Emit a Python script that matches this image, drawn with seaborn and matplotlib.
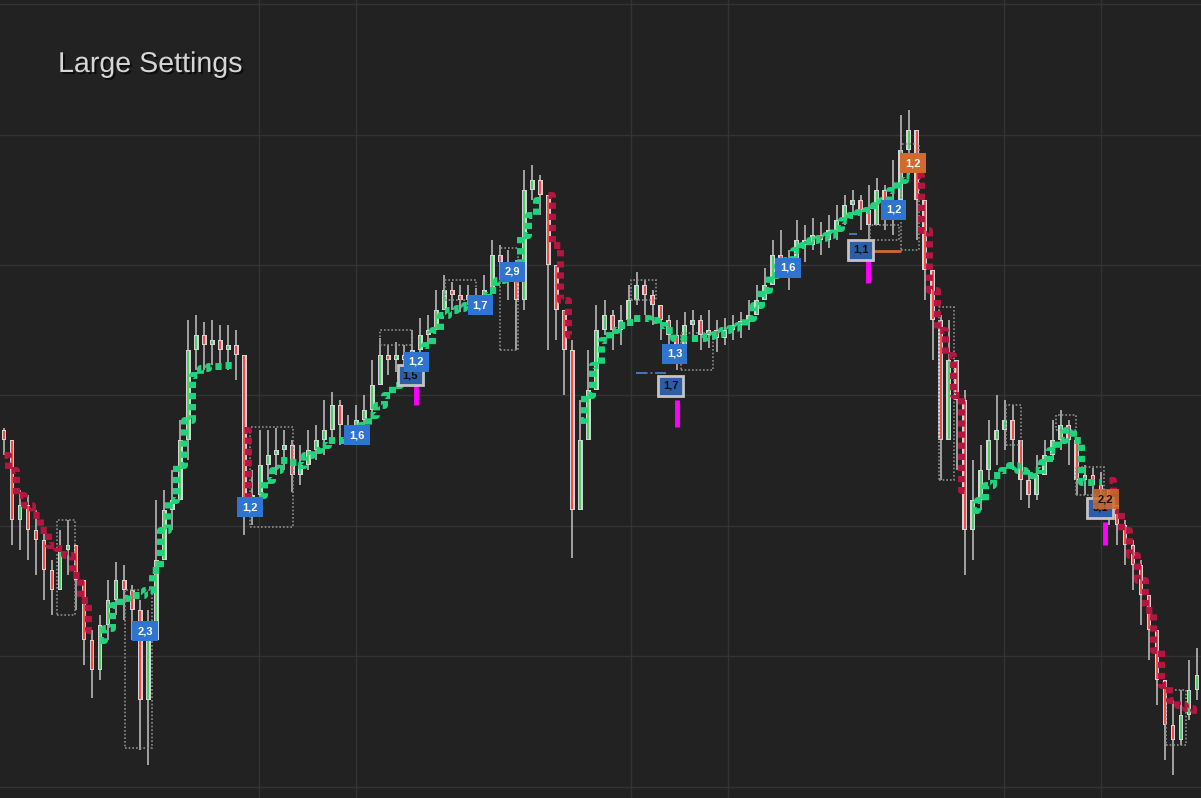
import numpy as np
import matplotlib
matplotlib.use("Agg")
import matplotlib.pyplot as plt
import matplotlib.patheffects as pe
from matplotlib.patches import Rectangle
import pandas as pd
import seaborn as sns

# ---------------- data (price units) ----------------
closes = [36.0, 28.0, 29.5, 27.0, 26.0, 23.0, 21.0, 25.0, 25.5, 22.0,
          16.0, 13.0, 17.5, 20.0, 22.0, 21.0, 19.0, 10.0, 16.0, 24.0,
          29.0, 30.0, 36.0, 45.0, 46.5, 45.5, 46.0, 45.0, 45.5, 44.5,
          29.5, 30.5, 33.5, 34.5, 35.0, 35.5, 32.5, 33.5, 35.0, 36.0,
          37.0, 39.5, 37.5, 37.0, 38.0, 39.0, 41.5, 44.5, 44.0, 44.5,
          44.0, 45.0, 46.5, 47.0, 49.0, 51.0, 50.5, 50.0, 50.5, 50.0,
          51.0, 54.5, 53.8, 52.0, 50.0, 61.0, 62.0, 60.5, 53.5, 49.0,
          45.0, 29.0, 36.0, 41.0, 47.0, 48.5, 47.0, 48.0, 50.0, 51.5,
          50.5, 49.5, 48.0, 46.5, 45.5, 47.5, 48.0, 46.5, 47.0, 46.2,
          47.0, 47.5, 47.8, 48.5, 50.0, 51.5, 54.5, 54.0, 52.5, 56.0,
          55.5, 56.5, 56.0, 57.0, 58.0, 59.5, 60.0, 59.0, 57.5, 61.0,
          59.5, 60.0, 65.0, 67.0, 60.0, 53.0, 48.0, 36.0, 44.0, 40.0,
          27.0, 30.0, 33.0, 36.0, 37.0, 38.0, 36.0, 32.0, 30.5, 32.5,
          34.5, 36.0, 37.5, 36.0, 32.0, 32.5, 31.5, 31.0, 29.5, 27.5,
          25.5, 23.5, 20.5, 17.0, 12.0, 7.5, 6.0, 8.5, 11.0, 12.5]
highs = [37.2, 36.0, 31.0, 30.5, 29.0, 27.0, 24.0, 27.0, 28.0, 25.5,
         22.0, 17.0, 18.5, 22.0, 23.8, 23.5, 21.5, 20.0, 19.0, 30.0,
         31.0, 33.0, 38.0, 48.0, 48.5, 47.8, 48.0, 47.5, 47.5, 47.0,
         44.5, 33.0, 37.0, 37.0, 37.2, 37.0, 36.0, 35.5, 37.0, 37.5,
         40.0, 40.8, 40.0, 38.5, 39.5, 40.5, 44.0, 46.2, 45.5, 45.8,
         45.5, 47.0, 48.2, 48.5, 51.0, 52.5, 51.8, 51.5, 51.5, 51.2,
         52.5, 56.0, 55.5, 55.0, 54.0, 63.0, 63.5, 62.5, 60.0, 52.0,
         48.0, 46.0, 40.0, 45.0, 49.5, 50.0, 49.0, 49.5, 51.5, 52.8,
         52.0, 51.0, 49.5, 48.5, 48.0, 48.8, 49.0, 48.5, 49.0, 48.0,
         48.2, 48.5, 48.8, 50.0, 51.5, 53.2, 56.0, 57.0, 55.0, 58.0,
         57.5, 58.2, 57.8, 58.5, 59.5, 60.5, 61.0, 60.5, 61.5, 62.2,
         61.5, 64.0, 68.5, 69.0, 65.0, 57.0, 53.0, 48.5, 48.0, 43.5,
         41.0, 34.0, 35.5, 38.0, 40.5, 40.0, 39.5, 36.0, 33.0, 34.5,
         36.0, 38.0, 39.0, 38.0, 34.5, 33.5, 33.2, 32.8, 31.0, 29.5,
         28.0, 26.0, 24.0, 20.0, 16.0, 11.0, 10.0, 11.0, 14.0, 15.2]
lows = [34.5, 25.5, 25.0, 24.0, 22.5, 20.0, 18.5, 21.0, 22.5, 19.0,
        13.5, 10.2, 12.0, 16.0, 18.5, 18.0, 16.0, 5.0, 3.5, 18.0,
        24.0, 27.0, 30.0, 34.0, 43.0, 43.0, 43.5, 43.0, 43.0, 42.0,
        26.5, 27.5, 29.0, 32.0, 32.5, 33.0, 30.8, 31.5, 33.0, 34.0,
        34.5, 36.0, 35.5, 35.5, 36.0, 37.0, 38.5, 42.0, 42.5, 42.8,
        42.0, 43.0, 44.5, 45.5, 47.0, 49.0, 49.0, 48.8, 49.5, 48.5,
        49.5, 52.0, 52.0, 50.0, 45.0, 49.0, 60.0, 58.5, 45.0, 46.0,
        40.5, 24.2, 31.0, 37.0, 44.0, 46.5, 45.0, 45.5, 47.5, 49.5,
        48.5, 47.5, 46.0, 44.0, 43.0, 45.5, 46.0, 45.0, 45.2, 44.8,
        45.5, 46.0, 46.2, 47.0, 48.5, 50.0, 52.0, 52.5, 51.0, 54.0,
        53.8, 55.0, 54.5, 55.2, 56.0, 57.5, 58.5, 57.0, 56.0, 58.0,
        57.0, 56.5, 59.5, 62.5, 56.0, 50.0, 44.0, 32.0, 38.0, 33.0,
        22.5, 24.0, 29.0, 32.0, 33.5, 35.0, 33.0, 30.0, 29.2, 30.0,
        32.5, 34.0, 35.0, 33.5, 30.5, 30.5, 30.0, 29.5, 27.5, 25.5,
        23.5, 21.0, 17.5, 14.0, 9.5, 4.0, 2.5, 5.5, 8.0, 10.0]
first_open = 37.0

trend = [34.5, 33.0, 30.5, 29.5, 28.5, 27.0, 25.5, 25.2, 24.5, 22.5,
         20.0, 17.0, 16.0, 17.2, 19.5, 20.2, 20.5, 20.5, 21.0, 23.0,
         27.0, 30.0, 33.5, 38.0, 42.5, 43.2, 43.4, 43.4, 43.5, 43.5,
         37.0, 30.0, 30.5, 32.0, 33.0, 34.0, 33.8, 33.5, 34.5, 35.0,
         35.5, 36.0, 36.0, 36.2, 36.8, 37.5, 38.5, 39.5, 40.5, 41.5,
         42.5, 43.2, 44.0, 45.5, 47.0, 48.5, 49.0, 49.2, 49.5, 50.0,
         50.5, 51.0, 52.0, 52.5, 53.5, 56.5, 58.5, 60.0, 60.5, 55.5,
         50.0, 46.5, 38.0, 40.5, 43.5, 46.0, 47.0, 47.5, 47.8, 48.2,
         48.2, 48.0, 47.5, 47.0, 46.2, 46.2, 46.2, 46.2, 46.4, 46.6,
         47.0, 47.2, 47.5, 48.2, 49.5, 51.0, 52.5, 53.5, 54.0, 55.0,
         55.5, 56.0, 56.2, 56.5, 57.2, 58.0, 58.5, 58.8, 59.0, 59.5,
         60.0, 61.0, 62.0, 62.5, 62.5, 57.0, 51.0, 47.0, 44.5, 40.5,
         31.0, 29.0, 30.0, 31.5, 32.5, 33.0, 33.5, 33.0, 32.5, 33.0,
         33.8, 35.0, 36.0, 37.0, 36.0, 31.8, 31.8, 31.8, 32.0, 29.0,
         27.0, 24.5, 22.0, 19.0, 15.0, 11.5, 10.0, 9.5, 9.2, 9.0]
trend_dir = [-1, 1, -1, 1, -1, 1, -1, 1, -1]
trend_len = [12, 18, 2, 36, 4, 42, 7, 17, 12]

# dotted range boxes
box_x0 = [6.6, 15.1, 30.7, 47.0, 55.1, 62.0, 78.3, 84.6, 108.2, 112.0, 116.8, 125.1, 131.4, 133.9, 145.1]
box_x1 = [8.9, 18.5, 36.1, 51.0, 58.9, 64.2, 81.4, 88.6, 111.8, 114.3, 118.6, 127.0, 133.9, 137.4, 147.6]
box_lo = [18.5, 5.2, 27.3, 45.5, 50.0, 45.0, 50.0, 43.0, 56.0, 55.0, 32.0, 35.5, 37.0, 30.5, 5.5]
box_hi = [28.0, 21.0, 37.3, 47.0, 52.0, 55.2, 52.0, 46.7, 57.5, 65.6, 49.3, 39.5, 38.5, 33.3, 11.0]

# signal labels
lab_x = [17.6, 30.75, 44.1, 50.75, 51.5, 59.5, 63.5, 83.25, 83.75, 97.9, 107.0, 111.1, 113.5, 136.9, 137.6]
lab_y = [16.9, 29.3, 36.5, 42.5, 43.8, 49.5, 52.8, 41.4, 44.6, 53.2, 55.0, 59.0, 63.7, 29.2, 30.1]
lab_text = ["2,3", "1,2", "1,6", "1,5", "1,2", "1,7", "2,9", "1,7", "1,3", "1,6", "1,1", "1,2", "1,2", "3,1", "2,2"]
lab_kind = ["blue", "blue", "blue", "box", "blue", "blue", "blue", "box", "blue", "blue", "box", "blue", "orange", "box", "orange_t"]

mag_x = [51.5, 84.0, 107.9, 137.5]
mag_top = [41.5, 40.0, 54.0, 27.8]
mag_bot = [39.5, 37.3, 51.7, 25.5]

# ---------------- style ----------------
BG = "#222222"
GRID = "#333333"
sns.set_theme(style="dark", rc={"axes.facecolor": BG, "figure.facecolor": BG})
plt.rcParams["font.family"] = ["Liberation Sans", "DejaVu Sans"]

fig = plt.figure(figsize=(12.01, 7.98), dpi=100, facecolor=BG)
ax = fig.add_axes([0, 0, 1, 1])
ax.set_facecolor(BG)

n = len(closes)
idx = np.arange(n)
c = np.array(closes)
o = np.r_[first_open, c[:-1]]
hi = np.maximum(np.array(highs), np.maximum(o, c))
lo = np.minimum(np.array(lows), np.minimum(o, c))

# candles
ax.vlines(idx, lo, hi, color="#c4c4c4", lw=1.1, zorder=2)
blo = np.minimum(o, c)
bh = np.maximum(np.abs(c - o), 0.4)
ax.bar(idx, bh, bottom=blo, width=0.6, color="#d4d4d4", linewidth=0, zorder=2.1)
up = c >= o
ax.vlines(idx[up], blo[up] + 0.1, blo[up] + bh[up] - 0.1, color="#22d048", lw=1.1, zorder=2.2)
ax.vlines(idx[~up], blo[~up] + 0.1, blo[~up] + bh[~up] - 0.1, color="#ff2020", lw=1.1, zorder=2.2)

# trend (stepped, dashed)
start = 0
for d, L in zip(trend_dir, trend_len):
    seg = pd.DataFrame({"x": idx[start:start + L], "y": trend[start:start + L]})
    col = "#1fd47c" if d > 0 else "#b3173f"
    sns.lineplot(data=seg, x="x", y="y", ax=ax, color=col, lw=5, estimator=None, sort=False,
                 drawstyle="steps-mid", linestyle=(0, (0.9, 0.7)), dash_capstyle="butt",
                 zorder=3, legend=False)
    start += L

# dotted boxes
for x0, x1, b0, b1 in zip(box_x0, box_x1, box_lo, box_hi):
    ax.add_patch(Rectangle((x0, b0), x1 - x0, b1 - b0, fill=False, ec="#8c8c8c",
                           lw=1.2, ls=(0, (1, 1.2)), zorder=2.5))

# blue dash-dot lines and orange line
ax.hlines(42.7, 78.9, 82.7, color="#4a7cc8", lw=1.3, ls="-.", zorder=4)
ax.hlines(56.6, 105.5, 106.5, color="#4a7cc8", lw=1.3, ls="-.", zorder=4)
ax.hlines(54.9, 108.0, 112.0, color="#d2692c", lw=2, zorder=4)

# magenta bars
ax.vlines(mag_x, mag_bot, mag_top, color="#ff00ff", lw=3.5, zorder=5)

# labels
for x, y, t, k in zip(lab_x, lab_y, lab_text, lab_kind):
    if k == "blue":
        fc, ec, tc, al, lw = "#2f74d0", "none", "white", 1.0, 0
    elif k == "box":
        fc, ec, tc, al, lw = "#2b5ea6", "#c4c4c4", "#0d0d0d", 1.0, 2
    elif k == "orange":
        fc, ec, tc, al, lw = "#d06a2e", "none", "white", 1.0, 0
    else:
        fc, ec, tc, al, lw = "#d06a2e", "none", "#141414", 0.85, 0
    ax.text(x, y, t, ha="center", va="center", fontsize=8, fontweight="bold", color=tc,
            bbox=dict(boxstyle="square,pad=0.45", fc=fc, ec=ec, lw=lw, alpha=al), zorder=6)

# grid
grid_x = [31.85, 43.96, 78.3, 90.4, 124.9, 137.0]
grid_y = [1.3, 14.4, 27.4, 40.5, 53.5, 66.5, 79.6]
ax.set_xticks(grid_x)
ax.set_yticks(grid_y)
ax.grid(True, color=GRID, lw=1.0)
ax.set_axisbelow(True)
ax.tick_params(length=0, labelbottom=False, labelleft=False)
for s in ax.spines.values():
    s.set_visible(False)
ax.set_xlim(-0.5, n - 0.5)
ax.set_ylim(0.2, 80)
ax.set_xlabel("")
ax.set_ylabel("")

fig.text(58 / 1201, 1 - 72 / 798, "Large Settings", fontsize=20.6, color="#d6d6d6",
         va="baseline", ha="left",
         path_effects=[pe.withSimplePatchShadow(offset=(1.5, -1.5), shadow_rgbFace="black", alpha=0.6)])

fig.savefig("out.png", dpi=100, facecolor=BG)
